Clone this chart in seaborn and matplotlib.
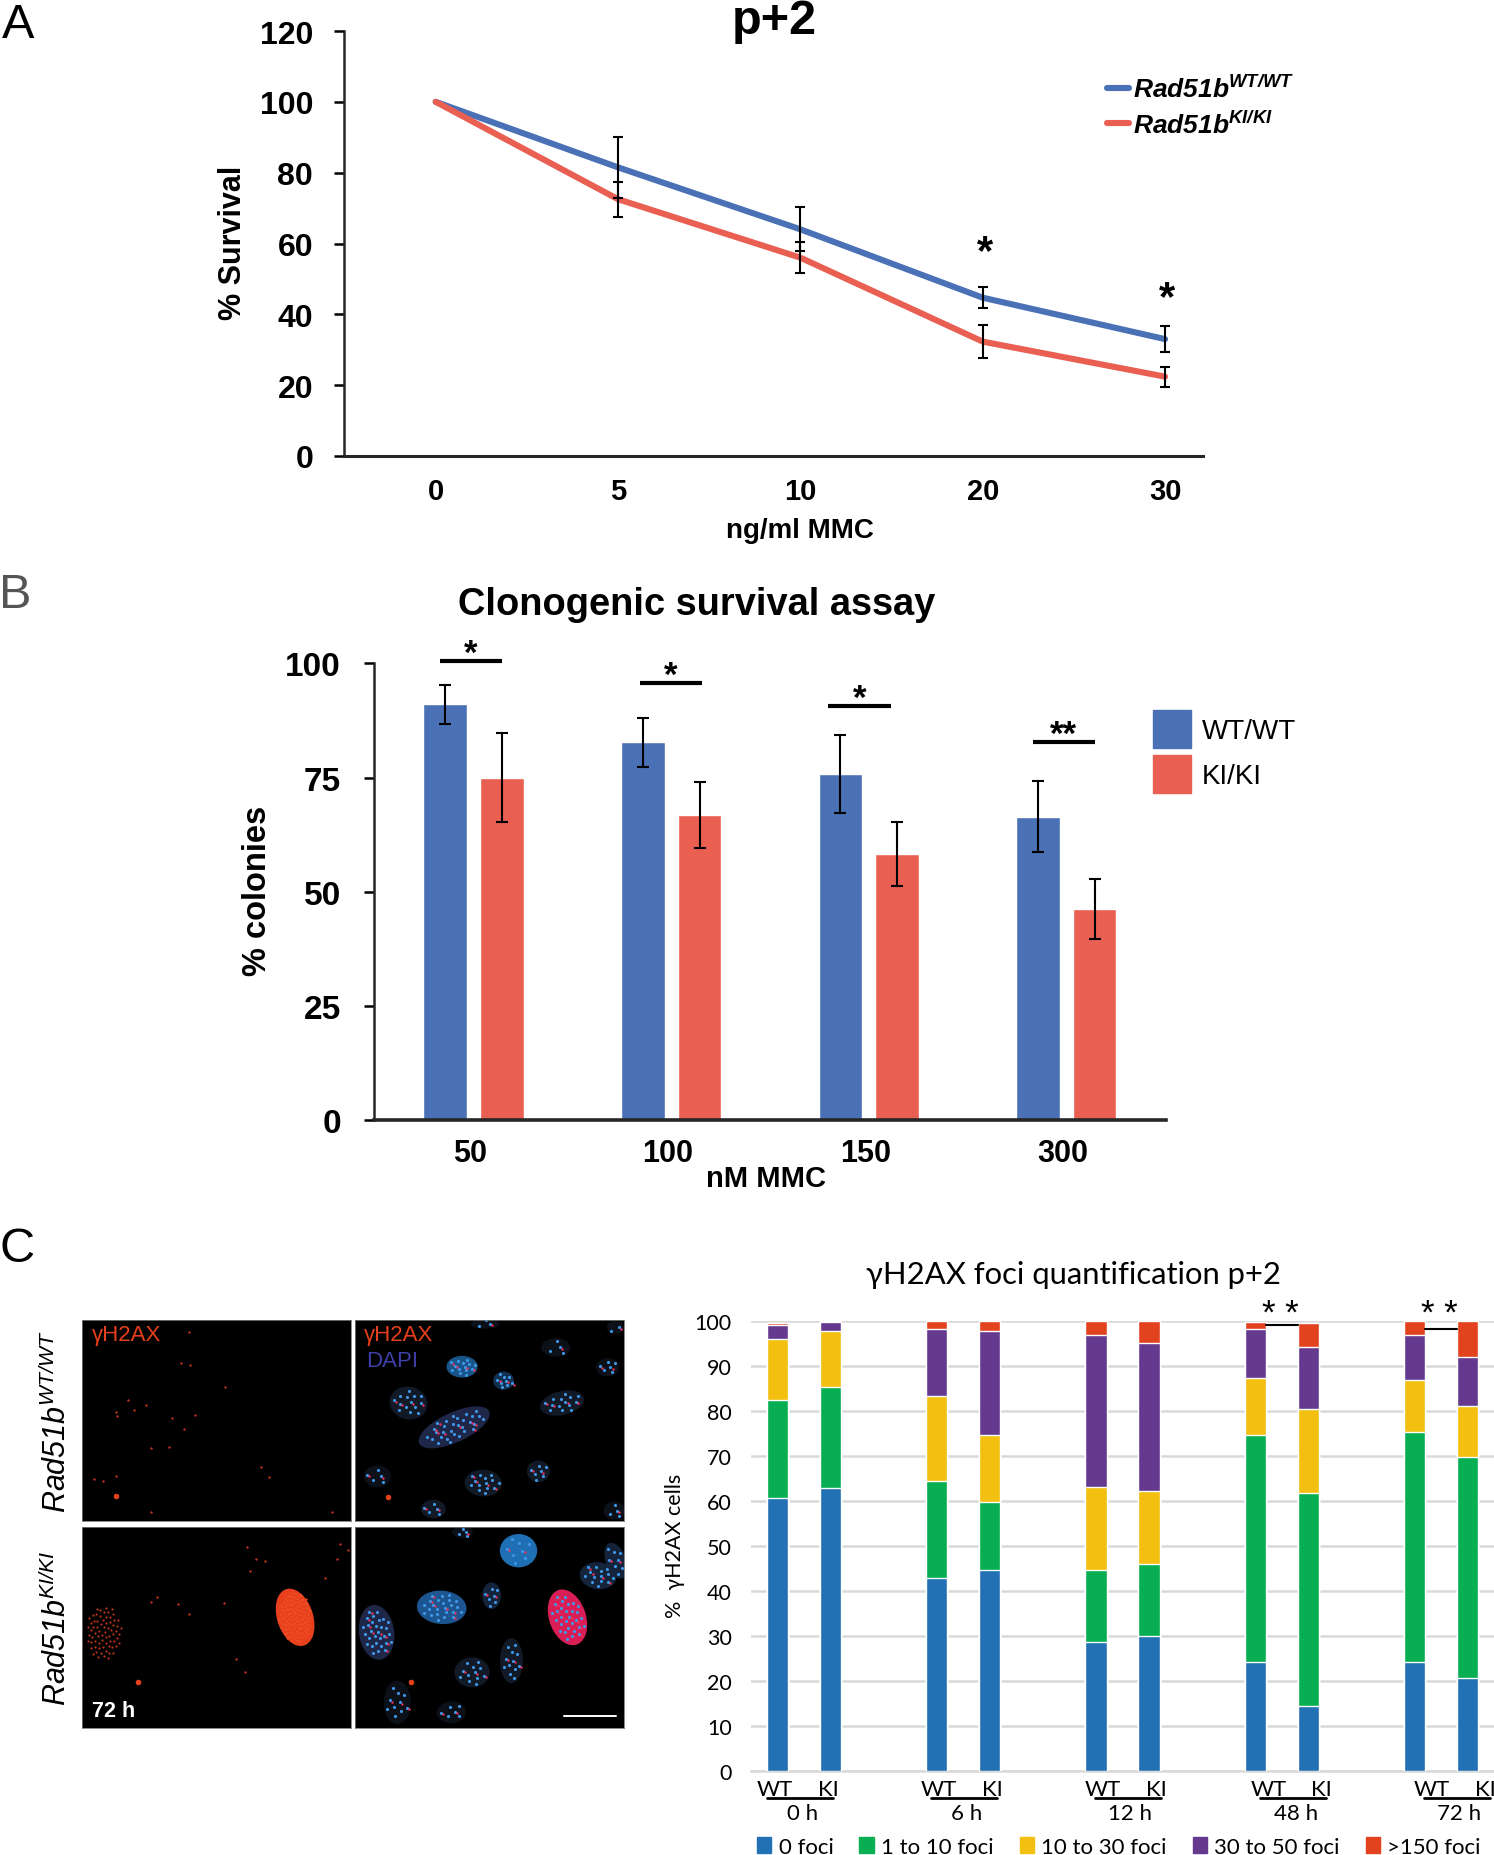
"""Rad51b survival assays and gamma-H2AX foci quantification, three panel figure."""

from __future__ import annotations

import matplotlib

matplotlib.use("Agg")

import matplotlib.pyplot as plt
import numpy as np
import pandas as pd
import seaborn as sns
from matplotlib.lines import Line2D
from matplotlib.patches import Ellipse, Patch

WIDTH = 1494
HEIGHT = 1856

BLUE = "#4a71b6"
RED = "#e95f52"

# panel A
MMC_DOSES = ["0", "5", "10", "20", "30"]
SURVIVAL_WT = [100, 81.5, 64, 44.7, 33]
SURVIVAL_KI = [100, 72.5, 56, 32.3, 22.4]
SURVIVAL_WT_ERR = [0, 8.6, 6.2, 3, 3.7]
SURVIVAL_KI_ERR = [0, 5, 4.4, 4.6, 2.8]
SURVIVAL_STARS = {"20": 57.7, "30": 44.7}

# panel B
COLONY_DOSES = ["50", "100", "150", "300"]
COLONIES_WT = [91, 82.7, 75.8, 66.4]
COLONIES_KI = [75, 66.8, 58.2, 46.2]
COLONIES_WT_ERR = [4.3, 5.4, 8.5, 7.8]
COLONIES_KI_ERR = [9.7, 7.3, 7, 6.6]
COLONY_SIG_LEVEL = [100.5, 95.7, 90.6, 82.8]
COLONY_SIG_TEXT = ["*", "*", "*", "**"]
COLONY_SIG_SHIFT = [-0.014, -0.002, -0.046, -0.012]

# panel C
TIMEPOINTS = ["0 h", "6 h", "12 h", "48 h", "72 h"]
GENOTYPES = ["WT", "KI"]
FOCI_LABELS = ["0 foci", "1 to 10 foci", "10 to 30 foci", "30 to 50 foci", ">150 foci"]
FOCI_COLORS = ["#2271b5", "#07ae52", "#f3bf10", "#653a8e", "#e3421f"]
FOCI_0 = [60.7, 62.8, 42.7, 44.5, 28.5, 30, 24.2, 14.4, 24.2, 20.6]
FOCI_1_10 = [21.7, 22.4, 21.6, 15.2, 16, 16, 50.3, 47.3, 51, 49.1]
FOCI_10_30 = [13.5, 12.4, 19, 15, 18.6, 16.1, 12.8, 18.7, 11.6, 11.3]
FOCI_30_50 = [3.1, 2.2, 14.9, 23, 33.8, 32.9, 10.9, 13.7, 10.1, 10.9]
FOCI_150 = [0.5, 0.2, 1.8, 2.3, 3.1, 5, 1.6, 5.4, 3.1, 8.1]
# how far each group's labels sit right of its WT bar, in bar slots
GROUP_CENTRE = [0.42, 0.51, 0.6, 0.72, 0.8]

# micrographs: x, y, width, height, angle, n spots, nucleus colour
MERGE_TOP_NUCLEI = [
    (1114, 263, 75, 65, 0, 14, "#1a5589"),
    (1214, 305, 50, 55, 0, 9, "#12304f"),
    (985, 372, 90, 100, -20, 14, "#111a26"),
    (1095, 445, 195, 85, -32, 30, "#1f2748"),
    (1355, 372, 110, 70, -20, 14, "#111a26"),
    (1340, 205, 70, 55, 0, 4, "#0c1119"),
    (1465, 265, 55, 55, 0, 6, "#0c1119"),
    (1170, 135, 70, 28, 0, 3, "#0c1119"),
    (1483, 145, 40, 40, 0, 2, "#0c1119"),
    (910, 592, 65, 65, 0, 5, "#0c1119"),
    (1165, 612, 90, 80, 10, 14, "#111a26"),
    (1298, 577, 55, 65, 0, 7, "#111a26"),
    (1045, 690, 60, 55, 0, 5, "#111a26"),
    (1480, 695, 50, 55, 0, 4, "#0c1119"),
]
MERGE_BOTTOM_NUCLEI = [
    (1250, 815, 90, 100, 0, 8, "#1f6fb5"),
    (1115, 760, 50, 35, 0, 4, "#0c1119"),
    (1442, 890, 90, 80, 20, 14, "#14243a"),
    (1485, 845, 50, 110, -15, 8, "#14243a"),
    (1065, 985, 120, 100, 10, 24, "#1c5590"),
    (1185, 950, 45, 80, 0, 7, "#14243a"),
    (1368, 1015, 90, 170, -12, 30, "#d81e55"),
    (908, 1060, 85, 165, -5, 30, "#1f2748"),
    (1233, 1145, 55, 135, 0, 12, "#111a26"),
    (1138, 1180, 85, 90, 0, 12, "#111a26"),
    (958, 1270, 65, 130, 0, 10, "#0c1119"),
    (1088, 1300, 70, 65, -15, 6, "#0c1119"),
]
RED_TOP_X = [455, 437, 458, 542, 310, 352, 323, 280, 283, 445, 415, 470, 365, 408, 630, 649, 228, 279, 249, 365, 802]
RED_TOP_Y = [160, 253, 258, 325, 363, 378, 392, 398, 410, 450, 418, 407, 508, 503, 564, 594, 600, 590, 607, 700, 698]
RED_BOTTOM_X = [597, 617, 640, 603, 820, 840, 813, 365, 378, 430, 455, 540, 785, 570, 590]
RED_BOTTOM_Y = [803, 841, 846, 876, 795, 813, 841, 968, 955, 975, 1005, 973, 897, 1140, 1180]
DEBRIS_X = [334, 992]
DEBRIS_Y = [1209, 1208]


def add_axes_px(fig, left, top, right, bottom):
    """Add axes from pixel edges counted from the top left of the figure."""
    return fig.add_axes(
        [left / WIDTH, 1 - bottom / HEIGHT, (right - left) / WIDTH, (bottom - top) / HEIGHT]
    )


def fig_text(fig, x, y, text, **kwargs):
    kwargs.setdefault("ha", "center")
    kwargs.setdefault("va", "center")
    fig.text(x / WIDTH, 1 - y / HEIGHT, text, **kwargs)


def plot_survival_lines(fig):
    ax = add_axes_px(fig, 343.8, 32, 1203, 457)
    df = pd.DataFrame(
        {
            "dose": MMC_DOSES * 2,
            "survival": SURVIVAL_WT + SURVIVAL_KI,
            "genotype": ["WT"] * 5 + ["KI"] * 5,
        }
    )
    sns.lineplot(
        data=df,
        x="dose",
        y="survival",
        hue="genotype",
        palette={"WT": BLUE, "KI": RED},
        linewidth=4.4,
        legend=False,
        ax=ax,
    )
    positions = np.arange(len(MMC_DOSES))
    for values, errors in [(SURVIVAL_WT, SURVIVAL_WT_ERR), (SURVIVAL_KI, SURVIVAL_KI_ERR)]:
        ax.errorbar(
            positions[1:], values[1:], yerr=errors[1:], fmt="none",
            ecolor="black", elinewidth=1.5, capsize=3.5, capthick=1.5, zorder=5,
        )
    for dose, level in SURVIVAL_STARS.items():
        ax.text(MMC_DOSES.index(dose) + 0.01, level, "*", ha="center", va="center",
                fontsize=30, fontweight="bold")

    ax.set_xlim(-0.504, 4.208)
    ax.set_ylim(0, 120)
    ax.set_yticks(range(0, 121, 20))
    ax.tick_params(axis="x", length=0, pad=15, labelsize=21)
    ax.tick_params(axis="y", length=7, width=1.8, pad=15, labelsize=23)
    for label in ax.get_xticklabels() + ax.get_yticklabels():
        label.set_fontweight("bold")
    ax.set_xlabel("")
    ax.set_ylabel("")
    sns.despine(ax=ax)
    ax.spines["left"].set_linewidth(1.8)
    ax.spines["bottom"].set_linewidth(2.2)

    fig_text(fig, 774, 22, "p+2", fontsize=35, fontweight="bold")
    fig_text(fig, 233, 243, "% Survival", fontsize=22, fontweight="bold", rotation=90)
    fig_text(fig, 800, 531, "ng/ml MMC", fontsize=20, fontweight="bold")

    handles = [Line2D([], [], color=BLUE, lw=4.4), Line2D([], [], color=RED, lw=4.4)]
    labels = [r"$\mathbfit{Rad51b}^{\mathbfit{WT/WT}}$", r"$\mathbfit{Rad51b}^{\mathbfit{KI/KI}}$"]
    fig.legend(
        handles, labels, loc="upper left", bbox_to_anchor=(1107 / WIDTH, 1 - 76 / HEIGHT),
        frameon=False, fontsize=19, handlelength=0.85, handletextpad=0.15, labelspacing=0.32,
        borderpad=0, borderaxespad=0,
    )


def plot_colony_bars(fig):
    ax = add_axes_px(fig, 374.3, 664.4, 1165.6, 1121)
    df = pd.DataFrame(
        {
            "dose": COLONY_DOSES * 2,
            "colonies": COLONIES_WT + COLONIES_KI,
            "genotype": ["WT/WT"] * 4 + ["KI/KI"] * 4,
        }
    )
    sns.barplot(
        data=df,
        x="dose",
        y="colonies",
        hue="genotype",
        palette={"WT/WT": BLUE, "KI/KI": RED},
        saturation=1,
        width=0.574,
        gap=0.23,
        errorbar=None,
        legend=False,
        ax=ax,
    )
    positions = np.arange(len(COLONY_DOSES))
    for shift, values, errors in [
        (-0.1435, COLONIES_WT, COLONIES_WT_ERR),
        (0.1435, COLONIES_KI, COLONIES_KI_ERR),
    ]:
        ax.errorbar(
            positions + shift, values, yerr=errors, fmt="none",
            ecolor="black", elinewidth=1.5, capsize=4.5, capthick=1.5, zorder=5,
        )
    for pos, level, stars, shift in zip(positions, COLONY_SIG_LEVEL, COLONY_SIG_TEXT, COLONY_SIG_SHIFT):
        ax.plot([pos + shift - 0.158, pos + shift + 0.158], [level, level], color="black", lw=3,
                clip_on=False, solid_capstyle="butt")
        ax.text(pos + shift, level + 1.7, stars, ha="center", va="center",
                fontsize=25, fontweight="bold")

    ax.set_xticks(positions - 0.018, COLONY_DOSES)
    ax.set_xlim(-0.503, 3.503)
    ax.set_ylim(0, 100)
    ax.set_yticks(range(0, 101, 25))
    ax.tick_params(axis="x", length=0, pad=13, labelsize=22)
    ax.tick_params(axis="y", length=7, width=1.8, pad=17, labelsize=24)
    for label in ax.get_xticklabels() + ax.get_yticklabels():
        label.set_fontweight("bold")
    ax.set_xlabel("")
    ax.set_ylabel("")
    sns.despine(ax=ax)
    ax.spines["left"].set_linewidth(1.8)
    ax.spines["bottom"].set_linewidth(2.6)

    fig_text(fig, 697, 605, "Clonogenic survival assay", fontsize=27.4, fontweight="bold")
    fig_text(fig, 258, 891, "% colonies", fontsize=23.5, fontweight="bold", rotation=90)
    fig_text(fig, 766, 1179, "nM MMC", fontsize=21, fontweight="bold")

    handles = [Patch(color=BLUE), Patch(color=RED)]
    fig.legend(
        handles, ["WT/WT", "KI/KI"], loc="upper left",
        bbox_to_anchor=(1153 / WIDTH, 1 - 711 / HEIGHT),
        frameon=False, fontsize=20, handlelength=1.37, handleheight=1.73,
        handletextpad=0.38, labelspacing=0.25, borderpad=0, borderaxespad=0,
    )


def plot_foci_stack(fig):
    ax = add_axes_px(fig, 751, 1321.7, 1494, 1771.6)
    series = np.array([FOCI_0, FOCI_1_10, FOCI_10_30, FOCI_30_50, FOCI_150])
    tops = series.cumsum(axis=0)
    group_slots = np.arange(len(TIMEPOINTS)) * 3
    slots = np.column_stack([group_slots, group_slots + 1]).ravel()

    # stack by painting the cumulative heights from the tallest down
    for top, color in zip(tops[::-1], FOCI_COLORS[::-1]):
        sns.barplot(x=slots, y=top, native_scale=True, color=color, saturation=1,
                    width=0.4, errorbar=None, ax=ax, zorder=3)

    ax.set_xlim(-0.5, 13.5)
    ax.set_ylim(0, 100)
    ax.set_yticks(range(0, 101, 10))
    ax.set_xticks([])
    ax.set_axisbelow(True)
    ax.grid(axis="y", color="#d9d9d9", lw=1.8)
    ax.tick_params(axis="y", length=0, pad=14, labelsize=15.5)
    ax.set_xlabel("")
    ax.set_ylabel("")
    for spine in ["top", "right", "left"]:
        ax.spines[spine].set_visible(False)
    ax.spines["bottom"].set_color("#d9d9d9")
    ax.spines["bottom"].set_linewidth(1.8)

    for slot, centre, timepoint in zip(group_slots, GROUP_CENTRE, TIMEPOINTS):
        mid = slot + centre
        ax.text(mid - 0.47, -4, GENOTYPES[0], ha="center", va="center", fontsize=16, clip_on=False)
        ax.text(mid + 0.53, -4, GENOTYPES[1], ha="center", va="center", fontsize=16, clip_on=False)
        ax.plot([mid - 0.62, mid + 0.62], [-6.1, -6.1], color="black", lw=2, clip_on=False)
        ax.text(mid + 0.05, -9.5, timepoint, ha="center", va="center", fontsize=16, clip_on=False)

    for slot, level in zip(group_slots[3:], [99, 98.2]):
        ax.plot([slot + 0.2, slot + 0.8], [level, level], color="black", lw=1.5, zorder=4)
        ax.text(slot + 0.47, 101.6, "* *", ha="center", va="center", fontsize=25,
                family=["Liberation Sans"], clip_on=False)

    fig_text(fig, 1074, 1275, "γH2AX foci quantification p+2", fontsize=22.3)
    fig_text(fig, 675, 1546, "%  γH2AX cells", fontsize=15.5, rotation=90)

    handles = [Patch(color=color) for color in FOCI_COLORS]
    fig.legend(
        handles, FOCI_LABELS, loc="lower left", bbox_to_anchor=(757 / WIDTH, -2 / HEIGHT), ncol=5,
        frameon=False, fontsize=16, handlelength=0.65, handleheight=0.7, handletextpad=0.32,
        columnspacing=1.17, borderpad=0, borderaxespad=0,
    )


def sunflower(n_spots, spread=0.42):
    """Evenly scattered offsets inside a unit circle, used for speckle in the micrographs."""
    turn = np.arange(n_spots) * 2.4
    radius = spread * np.sqrt((np.arange(n_spots) + 0.5) / n_spots)
    return radius * np.cos(turn), radius * np.sin(turn)


def draw_nuclei(ax, nuclei):
    """Sketch nuclei as ellipses with bright chromocentres."""
    for x, y, w, h, angle, n_spots, color in nuclei:
        ax.add_patch(Ellipse((x, y), w, h, angle=angle, facecolor=color, edgecolor="none"))
        unit_x, unit_y = sunflower(n_spots)
        dx, dy = w * unit_x, h * unit_y
        theta = np.deg2rad(angle)
        spot_x = x + dx * np.cos(theta) - dy * np.sin(theta)
        spot_y = y + dx * np.sin(theta) + dy * np.cos(theta)
        ax.scatter(spot_x, spot_y, s=5, color="#3f97e8", linewidths=0)
        ax.scatter(spot_x[::4] + 5, spot_y[::4] + 4, s=3, color="#f0305a", linewidths=0)


def draw_micrographs(fig):
    red = "#e8401c"
    dim_red = "#b9361a"
    panels = {}
    boxes = {
        "tl": (82, 1320.7, 350.7, 1522, 198, 846, 122, 726),
        "tr": (355, 1320.7, 623.5, 1522, 856, 1503, 122, 726),
        "bl": (82, 1527.7, 350.7, 1729.3, 198, 846, 743, 1348),
        "br": (355, 1527.7, 623.5, 1729.3, 856, 1503, 743, 1348),
    }
    for name, (left, top, right, bottom, x0, x1, y0, y1) in boxes.items():
        ax = add_axes_px(fig, left, top, right, bottom)
        ax.set_facecolor("black")
        ax.set_xlim(x0, x1)
        ax.set_ylim(y1, y0)
        ax.set_xticks([])
        ax.set_yticks([])
        for spine in ax.spines.values():
            spine.set_color("#777777")
            spine.set_linewidth(0.6)
        panels[name] = ax

    panels["tl"].scatter(RED_TOP_X, RED_TOP_Y, s=3, color=dim_red, linewidths=0)
    panels["tl"].scatter([280], [652], s=16, color=red, linewidths=0)
    panels["tr"].scatter([935], [654], s=16, color=red, linewidths=0)
    draw_nuclei(panels["tr"], MERGE_TOP_NUCLEI)

    panels["bl"].scatter(RED_BOTTOM_X, RED_BOTTOM_Y, s=3, color=dim_red, linewidths=0)
    panels["bl"].scatter(DEBRIS_X[:1], DEBRIS_Y[:1], s=16, color=red, linewidths=0)
    panels["bl"].add_patch(Ellipse((712, 1015), 88, 175, angle=-12, facecolor=red, edgecolor="none"))
    unit_x, unit_y = sunflower(110, spread=0.44)
    panels["bl"].scatter(712 + 88 * unit_x, 1015 + 175 * unit_y, s=2.5, color="#ee5226", linewidths=0)
    unit_x, unit_y = sunflower(70, spread=0.5)
    panels["bl"].scatter(250 + 85 * unit_x, 1060 + 165 * unit_y, s=2.5, color=dim_red, linewidths=0)
    panels["br"].scatter(DEBRIS_X[1:], DEBRIS_Y[1:], s=16, color=red, linewidths=0)
    draw_nuclei(panels["br"], MERGE_BOTTOM_NUCLEI)
    panels["br"].plot([1360, 1484], [1310, 1310], color="white", lw=1.4)

    panels["tl"].text(222, 165, "γH2AX", color=red, fontsize=16, va="center")
    panels["tr"].text(878, 165, "γH2AX", color=red, fontsize=16, va="center")
    panels["tr"].text(882, 245, "DAPI", color="#3e3fa8", fontsize=16, va="center")
    panels["bl"].text(222, 1295, "72 h", color="white", fontsize=15.5, fontweight="bold", va="center")

    # \mathcal is mapped to the italic face so that the digits lean too
    fig_text(fig, 57, 1422, r"$\mathcal{Rad51b}^{\mathcal{WT/WT}}$", fontsize=22, rotation=90)
    fig_text(fig, 57, 1628, r"$\mathcal{Rad51b}^{\mathcal{KI/KI}}$", fontsize=22, rotation=90)


def main() -> None:
    sns.set_theme(style="ticks")
    plt.rcParams["font.family"] = ["Liberation Sans", "DejaVu Sans"]
    plt.rcParams["mathtext.fontset"] = "custom"
    plt.rcParams["mathtext.rm"] = "Liberation Sans"
    plt.rcParams["mathtext.it"] = "Liberation Sans:italic"
    plt.rcParams["mathtext.cal"] = "Liberation Sans:italic"
    plt.rcParams["mathtext.bf"] = "Liberation Sans:bold"
    plt.rcParams["mathtext.bfit"] = "Liberation Sans:italic:bold"
    plt.rcParams["text.color"] = "black"
    plt.rcParams["xtick.color"] = "black"
    plt.rcParams["ytick.color"] = "black"

    fig = plt.figure(figsize=(WIDTH / 100, HEIGHT / 100), dpi=100, facecolor="white")

    plot_survival_lines(fig)
    plot_colony_bars(fig)

    # the quantification panel is set in a Calibri-like face
    plt.rcParams["font.family"] = ["Lato", "DejaVu Sans"]
    plot_foci_stack(fig)
    plt.rcParams["font.family"] = ["Liberation Sans", "DejaVu Sans"]

    draw_micrographs(fig)

    fig_text(fig, 18, 25, "A", fontsize=35)
    fig_text(fig, 15, 595, "B", fontsize=35, color="#555555")
    fig_text(fig, 17, 1249, "C", fontsize=35)

    fig.savefig("out.png", dpi=100)
    plt.close(fig)


if __name__ == "__main__":
    main()
